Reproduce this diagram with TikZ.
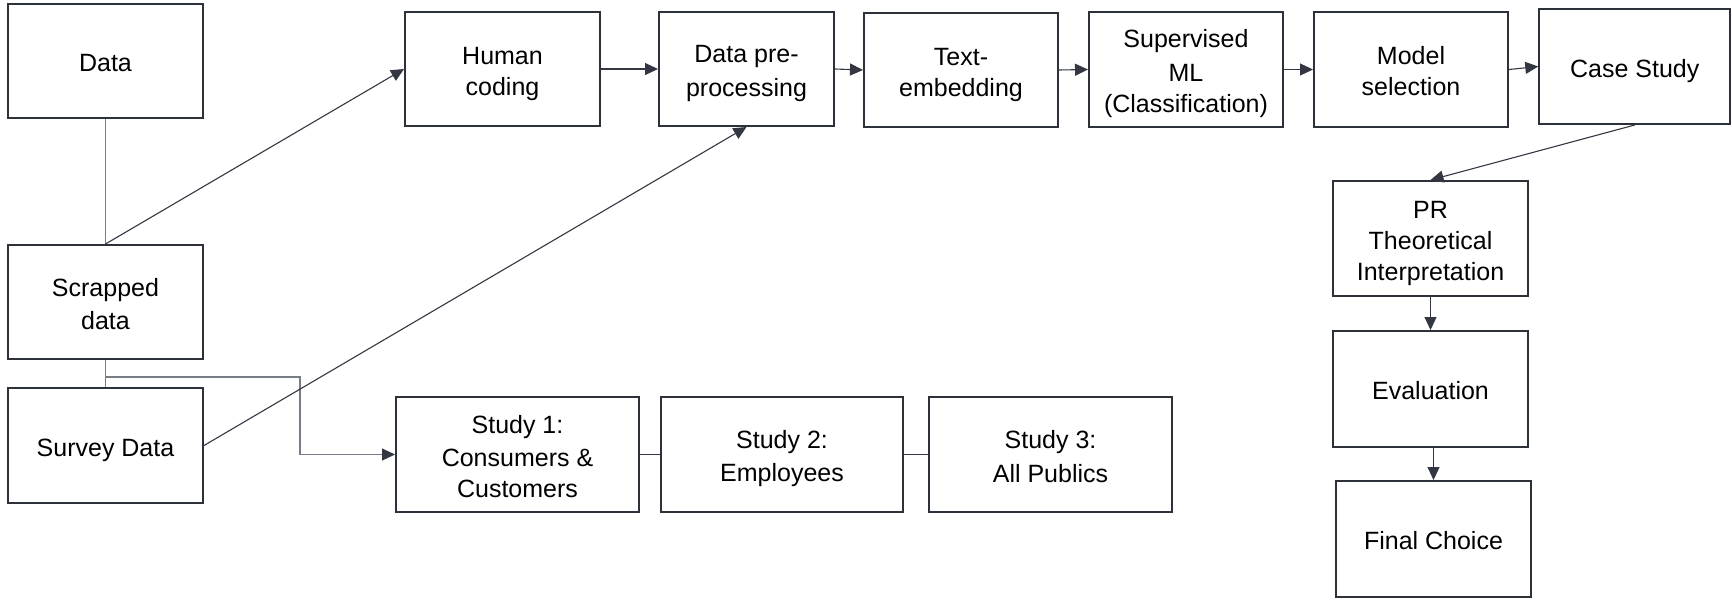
\documentclass[tikz,border=0pt]{standalone}
\usepackage{fontspec}
\setmainfont{Liberation Sans}
\usetikzlibrary{arrows.meta}
\definecolor{boxc}{RGB}{45,50,58}
\definecolor{linec}{RGB}{120,125,133}
\definecolor{arrc}{RGB}{50,55,65}
\newcommand\ls{\rule[-2.275pt]{0pt}{15.5pt}}
\newcommand\lsc{\rule[-1.525pt]{0pt}{15.5pt}}
\tikzset{
  stepbox/.style={draw=boxc, line width=1pt, inner sep=0pt, align=center,
    font=\fontsize{12.5}{15.5}\selectfont, text=black},
  plainln/.style={draw=linec, line width=0.6pt},
  arrln/.style={draw=arrc, line width=0.55pt, -{Triangle[length=6.5pt,width=6pt,color=arrc]}},
}
\begin{document}
\begin{tikzpicture}[x=0.5pt,y=-0.5pt]
\useasboundingbox (0,0) rectangle (1732,599);
\node[stepbox, minimum width=97.5pt, minimum height=57pt] (data) at (105.5,61) {\ls Data};
\node[stepbox, minimum width=97.5pt, minimum height=57pt] (scr) at (105.5,302) {\ls Scrapped\\\ls data};
\node[stepbox, minimum width=97.5pt, minimum height=57.5pt] (sur) at (105.5,445.5) {\ls Survey Data};
\node[stepbox, minimum width=97.5pt, minimum height=57pt] (hum) at (502.5,69) {\ls Human\\\ls coding};
\node[stepbox, minimum width=87.5pt, minimum height=57pt] (dp) at (746.5,69) {\ls Data pre-\\\ls processing};
\node[stepbox, minimum width=97pt, minimum height=57pt] (te) at (961,70) {\ls Text-\\\ls embedding};
\node[stepbox, minimum width=97pt, minimum height=57.5pt] (sml) at (1186,69.5) {\ls Supervised\\\ls ML\\\ls (Classification)};
\node[stepbox, minimum width=97pt, minimum height=57.5pt] (ms) at (1411,69.5) {\ls Model\\\ls selection};
\node[stepbox, minimum width=95.5pt, minimum height=57.5pt] (cs) at (1634.75,66.5) {\lsc Case Study};
\node[stepbox, minimum width=97.5pt, minimum height=57.5pt] (pr) at (1430.5,238.5) {\ls PR\\\ls Theoretical\\\ls Interpretation};
\node[stepbox, minimum width=97.5pt, minimum height=58pt] (ev) at (1430.5,389) {\ls Evaluation};
\node[stepbox, minimum width=97.5pt, minimum height=58pt] (fc) at (1433.5,539) {\ls Final Choice};
\node[stepbox, minimum width=121.5pt, minimum height=57.5pt] (s1) at (517.5,454.5) {\ls Study 1:\\\ls Consumers \&\\\ls Customers};
\node[stepbox, minimum width=121pt, minimum height=57.5pt] (s2) at (782,454.5) {\ls Study 2:\\\ls Employees};
\node[stepbox, minimum width=121.5pt, minimum height=57.5pt] (s3) at (1050.5,454.5) {\ls Study 3:\\\ls All Publics};

\coordinate (j) at (105.5,377);
\coordinate (jb) at (300,377);

\draw[plainln] (data.south) -- (scr.north);
\draw[plainln] (scr.south) -- (sur.north);
\draw[arrln] (scr.north) -- (hum.west);
\draw[arrln, draw=linec] (j) -- (jb) |- (s1.west);
\draw[arrln] (sur.east) -- (dp.south);
\draw[arrln] (hum.east) -- (dp.west);
\draw[arrln] (dp.east) -- (te.west);
\draw[arrln] (te.east) -- (sml.west);
\draw[arrln] (sml.east) -- (ms.west);
\draw[arrln] (ms.east) -- (cs.west);
\draw[arrln] (cs.south) -- (pr.north);
\draw[arrln] (pr.south) -- (ev.north);
\draw[arrln] (ev.south -| fc.north) -- (fc.north);
\draw[plainln, draw=arrc] (s1.east) -- (s2.west);
\draw[plainln, draw=arrc] (s2.east) -- (s3.west);
\end{tikzpicture}
\end{document}
